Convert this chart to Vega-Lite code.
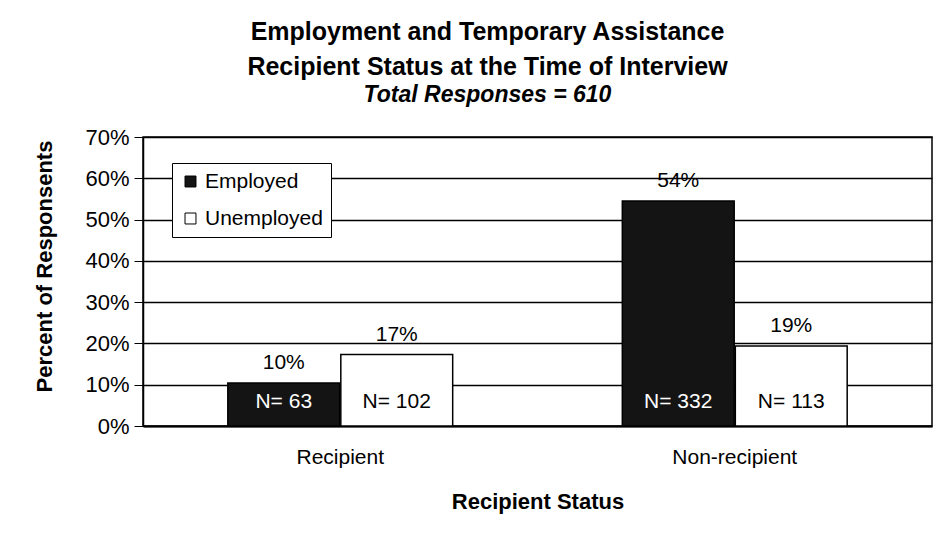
{
  "$schema": "https://vega.github.io/schema/vega-lite/v6.json",
  "width": 789,
  "height": 289,
  "autosize": {"type": "none"},
  "padding": {"left": 143, "top": 137, "right": 17, "bottom": 121},
  "background": "white",
  "config": {
    "font": "Liberation Sans",
    "view": {"stroke": "black", "strokeWidth": 1.5}
  },
  "title": {
    "text": ["Employment and Temporary Assistance", "Recipient Status at the Time of Interview"],
    "subtitle": "Total Responses = 610",
    "fontSize": 25,
    "fontWeight": "bold",
    "lineHeight": 35,
    "subtitleFontSize": 23,
    "subtitleFontWeight": "bold",
    "subtitleFontStyle": "italic",
    "subtitleColor": "black",
    "subtitlePadding": 4,
    "color": "black",
    "anchor": "middle",
    "dx": -50,
    "offset": 19,
    "frame": "group"
  },
  "data": {
    "values": [
      {"Status": "Recipient", "Employment": "Employed", "Percent": 10.4, "Label": "10%", "N": "N= 63"},
      {"Status": "Recipient", "Employment": "Unemployed", "Percent": 17.3, "Label": "17%", "N": "N= 102"},
      {"Status": "Non-recipient", "Employment": "Employed", "Percent": 54.5, "Label": "54%", "N": "N= 332"},
      {"Status": "Non-recipient", "Employment": "Unemployed", "Percent": 19.4, "Label": "19%", "N": "N= 113"}
    ]
  },
  "encoding": {
    "x": {
      "field": "Status",
      "type": "nominal",
      "sort": ["Recipient", "Non-recipient"],
      "scale": {"paddingInner": 0.43, "paddingOuter": 0.215},
      "axis": {
        "title": "Recipient Status",
        "titleFontSize": 22,
        "titleFontWeight": "bold",
        "titleColor": "black",
        "titlePadding": 24,
        "labelAngle": 0,
        "labelFontSize": 21,
        "labelColor": "black",
        "labelPadding": 20,
        "ticks": false,
        "domainColor": "black",
        "domainWidth": 2
      }
    },
    "xOffset": {
      "field": "Employment",
      "type": "nominal",
      "sort": ["Employed", "Unemployed"],
      "scale": {"paddingInner": 0.01}
    }
  },
  "layer": [
    {
      "mark": {"type": "bar", "stroke": "black", "strokeWidth": 1.5},
      "encoding": {
        "y": {
          "field": "Percent",
          "type": "quantitative",
          "scale": {"domain": [0, 70], "nice": false},
          "axis": {
            "values": [0, 10, 20, 30, 40, 50, 60, 70],
            "labelExpr": "datum.value + '%'",
            "title": "Percent of Responsents",
            "titleFontSize": 22,
            "titleFontWeight": "bold",
            "titleColor": "black",
            "titlePadding": 28,
            "titleY": 129,
            "labelFontSize": 22,
            "labelColor": "black",
            "labelPadding": 5,
            "tickColor": "black",
            "tickSize": 9,
            "domainColor": "black",
            "domainWidth": 1.5,
            "grid": true,
            "gridColor": "black",
            "gridWidth": 1.3,
            "gridOpacity": 1
          }
        },
        "fill": {
          "field": "Employment",
          "type": "nominal",
          "scale": {"domain": ["Employed", "Unemployed"], "range": ["#141414", "white"]},
          "legend": {
            "title": null,
            "orient": "none",
            "legendX": 29,
            "legendY": 26,
            "symbolType": "square",
            "symbolSize": 120,
            "symbolStrokeColor": "black",
            "symbolStrokeWidth": 1,
            "labelFontSize": 21,
            "labelColor": "black",
            "labelOffset": 4,
            "rowPadding": 15,
            "padding": 8,
            "fillColor": "white",
            "strokeColor": "black"
          }
        }
      }
    },
    {
      "mark": {"type": "text", "baseline": "bottom", "dy": -10, "fontSize": 21, "color": "black"},
      "encoding": {
        "y": {"field": "Percent", "type": "quantitative"},
        "text": {"field": "Label"}
      }
    },
    {
      "mark": {"type": "text", "baseline": "middle", "fontSize": 21},
      "encoding": {
        "y": {"datum": 5.8, "type": "quantitative"},
        "text": {"field": "N"},
        "color": {
          "condition": {"test": "datum.Employment === 'Employed'", "value": "white"},
          "value": "black"
        }
      }
    }
  ]
}
